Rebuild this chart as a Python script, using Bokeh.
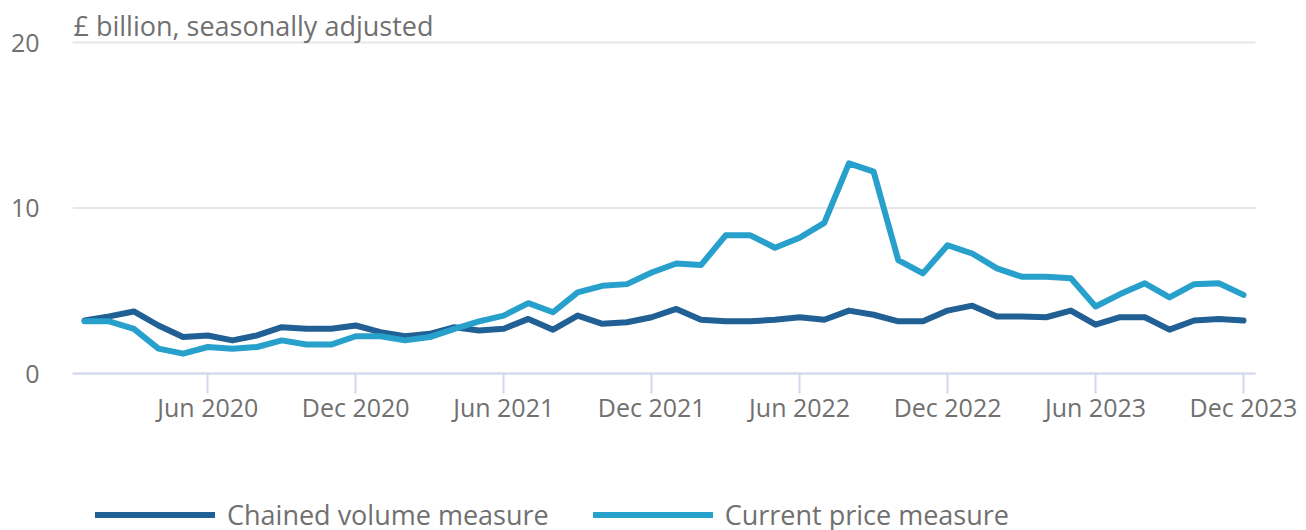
from bokeh.plotting import figure
from bokeh.models import (FixedTicker, Label, Legend, LegendItem, ColumnDataSource,
                          Range1d, LinearAxis)
from bokeh.embed import file_html
from bokeh.resources import INLINE

months = ["Jan 2020", "Feb 2020", "Mar 2020", "Apr 2020", "May 2020", "Jun 2020",
          "Jul 2020", "Aug 2020", "Sep 2020", "Oct 2020", "Nov 2020", "Dec 2020",
          "Jan 2021", "Feb 2021", "Mar 2021", "Apr 2021", "May 2021", "Jun 2021",
          "Jul 2021", "Aug 2021", "Sep 2021", "Oct 2021", "Nov 2021", "Dec 2021",
          "Jan 2022", "Feb 2022", "Mar 2022", "Apr 2022", "May 2022", "Jun 2022",
          "Jul 2022", "Aug 2022", "Sep 2022", "Oct 2022", "Nov 2022", "Dec 2022",
          "Jan 2023", "Feb 2023", "Mar 2023", "Apr 2023", "May 2023", "Jun 2023",
          "Jul 2023", "Aug 2023", "Sep 2023", "Oct 2023", "Nov 2023", "Dec 2023"]

chained_volume = [3.2, 3.45, 3.75, 2.9, 2.2, 2.3, 2.0, 2.3, 2.8, 2.7, 2.7, 2.9,
                  2.5, 2.25, 2.4, 2.8, 2.6, 2.7, 3.3, 2.65, 3.5, 3.0, 3.1, 3.4,
                  3.9, 3.25, 3.15, 3.15, 3.25, 3.4, 3.25, 3.8, 3.55, 3.15, 3.15, 3.8,
                  4.1, 3.45, 3.45, 3.4, 3.8, 2.95, 3.4, 3.4, 2.65, 3.2, 3.3, 3.2]

current_price = [3.15, 3.15, 2.7, 1.5, 1.2, 1.6, 1.5, 1.6, 2.0, 1.75, 1.75, 2.25,
                 2.25, 2.0, 2.2, 2.7, 3.15, 3.5, 4.25, 3.7, 4.9, 5.3, 5.4, 6.1,
                 6.65, 6.55, 8.35, 8.35, 7.6, 8.2, 9.1, 12.7, 12.2, 6.85, 6.05, 7.75,
                 7.25, 6.35, 5.85, 5.85, 5.75, 4.05, 4.8, 5.45, 4.6, 5.4, 5.45, 4.75]

tick_labels = ["Jun 2020", "Dec 2020", "Jun 2021", "Dec 2021",
               "Jun 2022", "Dec 2022", "Jun 2023", "Dec 2023"]
y_ticks = [0, 10, 20]
y_title = "£ billion, seasonally adjusted"
series_names = ["Chained volume measure", "Current price measure"]

DARK = "#206095"
LIGHT = "#27a0cc"
TEXT = "#707070"
AXIS = "#d0d9ee"
GRID = "#e6e6e6"
FONT = "Open Sans"

W, H = 1306, 530
LEFT, RIGHT = 72, 1255           # plot-area edges in px
ZERO_PX, TOP_PX = 373, 42        # px of y=0 and y=20
ppu = (ZERO_PX - TOP_PX) / 20.0  # px per unit

idx = list(range(len(months)))
tick_pos = [months.index(t) for t in tick_labels]

x_start, x_end = -0.487, len(months) - 1 + 0.487
ppm = (RIGHT - LEFT) / (x_end - x_start)        # px per month
x_frame_end = x_end + (W - RIGHT) / ppm         # frame runs to the canvas edge

src = ColumnDataSource(dict(x=idx, cv=chained_volume, cp=current_price))

p = figure(width=W, height=H, output_backend="svg", toolbar_location=None,
           x_range=Range1d(x_start, x_frame_end),
           y_range=Range1d(-(H - ZERO_PX) / ppu, ZERO_PX / ppu),
           x_axis_location=None,
           min_border_left=LEFT, min_border_right=0,
           min_border_top=0, min_border_bottom=0)
p.outline_line_color = None
p.background_fill_color = "white"
p.border_fill_color = "white"

# y axis
p.yaxis.ticker = FixedTicker(ticks=y_ticks)
p.yaxis.axis_line_color = None
p.yaxis.major_tick_line_color = None
p.yaxis.minor_tick_line_color = None
p.yaxis.major_label_standoff = 27
p.yaxis.major_label_text_font = FONT
p.yaxis.major_label_text_font_size = "25px"
p.yaxis.major_label_text_color = TEXT

p.xgrid.grid_line_color = None
p.ygrid.grid_line_color = None
# horizontal grid lines limited to the plot area
p.segment(x0=[x_start] * len(y_ticks), x1=[x_end] * len(y_ticks),
          y0=y_ticks, y1=y_ticks, line_color=GRID, line_width=2)

# x axis fixed at y = 0
xaxis = LinearAxis(fixed_location=0, ticker=FixedTicker(ticks=tick_pos),
                   bounds=(x_start, x_end),
                   major_label_overrides={pos: lab for pos, lab in zip(tick_pos, tick_labels)})
xaxis.axis_line_color = AXIS
xaxis.axis_line_width = 2
xaxis.major_tick_line_color = AXIS
xaxis.major_tick_line_width = 2
xaxis.major_tick_in = 0
xaxis.major_tick_out = 20
xaxis.minor_tick_line_color = None
xaxis.major_label_standoff = -4
xaxis.major_label_text_font = FONT
xaxis.major_label_text_font_size = "25px"
xaxis.major_label_text_color = TEXT
p.add_layout(xaxis, "below")

r1 = p.line("x", "cv", source=src, line_color=DARK, line_width=6,
            line_join="round", line_cap="round")
r2 = p.line("x", "cp", source=src, line_color=LIGHT, line_width=6,
            line_join="round", line_cap="round")

title = Label(x=x_start, y=20, x_offset=1, y_offset=17, text=y_title,
              text_font=FONT, text_font_size="27px", text_color=TEXT,
              text_baseline="alphabetic", text_align="left")
p.add_layout(title)

legend = Legend(items=[LegendItem(label=series_names[0], renderers=[r1]),
                       LegendItem(label=series_names[1], renderers=[r2])],
                orientation="horizontal", location=(23, -3),
                glyph_width=120, glyph_height=27, label_standoff=12,
                spacing=44, padding=0, margin=0,
                border_line_color=None, background_fill_alpha=0,
                label_text_font=FONT, label_text_font_size="27px",
                label_text_color=TEXT, label_text_baseline="middle")
p.add_layout(legend, "center")

open("out.html", "w").write(file_html(p, INLINE))
